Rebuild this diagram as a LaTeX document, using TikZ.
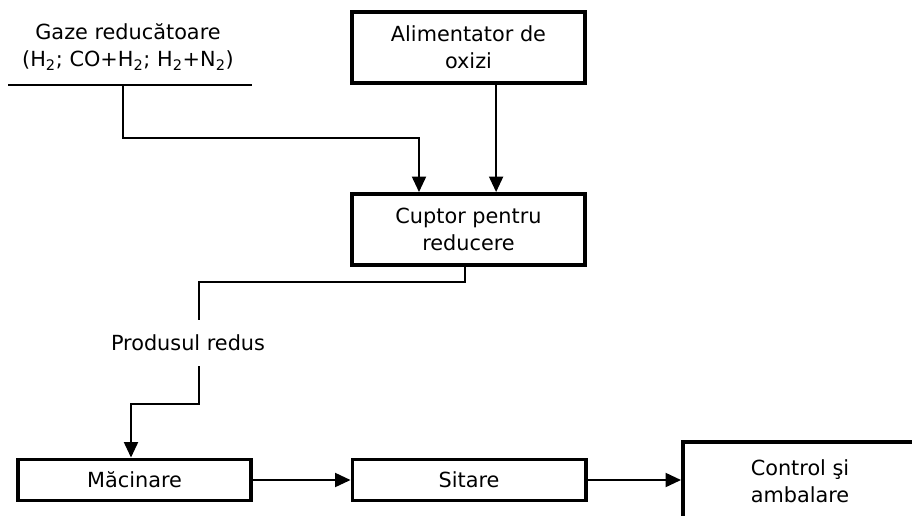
\documentclass[tikz,border=0pt]{standalone}
\usepackage{fontspec}
\setmainfont{DejaVu Sans}
\usetikzlibrary{arrows.meta, calc}

\begin{document}
\begin{tikzpicture}[
    x=0.025cm, y=-0.025cm,
    font=\fontsize{14.8}{19.5}\selectfont,
    box/.style={rectangle, draw, line width=2.8pt, minimum width=5.825cm,
                minimum height=1.775cm, align=center, inner sep=0pt},
    flatbox/.style={box, minimum height=1.025cm},
    lbl/.style={align=center, inner sep=0pt},
    line/.style={line width=1.3pt},
    arr/.style={line, -{Triangle[length=11pt, width=10pt]}},
]
    \clip (0,0) rectangle (912,515);

    % Inputs
    \node[lbl] (gaze) at (128,47) {Gaze reducătoare\\(H\textsubscript{2}; CO+H\textsubscript{2}; H\textsubscript{2}+N\textsubscript{2})};
    \coordinate (gl) at (8,85);
    \coordinate (gr) at (252,85);
    \coordinate (gz) at (123,85);
    \node[box] (alim) at (468.5,47.5) {Alimentator de\\oxizi};

    % Reduction
    \node[box] (cuptor) at (468.5,229.5) {Cuptor pentru\\reducere};
    \node[lbl, minimum height=1.15cm] (prod) at (188,343) {Produsul redus};

    % Processing line
    \node[flatbox] (mac) at (134.5,480) {Măcinare};
    \node[flatbox] (sit) at (469,480) {Sitare};
    \node[box, minimum width=5.85cm, minimum height=1.95cm] (ctrl) at (800,481) {Control şi\\ambalare};

    % Bends
    \coordinate (gbend) at (419,138);
    \coordinate (pbend) at (199,282);
    \coordinate (mbend) at (131,404);

    % Arrows: gases and oxides -> furnace
    \draw[line] (gl) -- (gr);
    \draw[arr] (gz) |- (gbend) -- (gbend |- cuptor.north);
    \draw[arr] ([xshift=0.69cm]alim.south) -- ([xshift=0.69cm]cuptor.north);

    % Arrows: furnace -> milling
    \draw[line] ([xshift=-0.09cm]cuptor.south) |- (pbend) -- (pbend |- prod.north);
    \draw[arr] (pbend |- prod.south) |- (mbend) -- (mbend |- mac.north);

    % Arrows: milling -> sieving -> packing
    \draw[arr] (mac) -- (sit);
    \draw[arr] (sit) -- (sit -| ctrl.west);
\end{tikzpicture}
\end{document}
